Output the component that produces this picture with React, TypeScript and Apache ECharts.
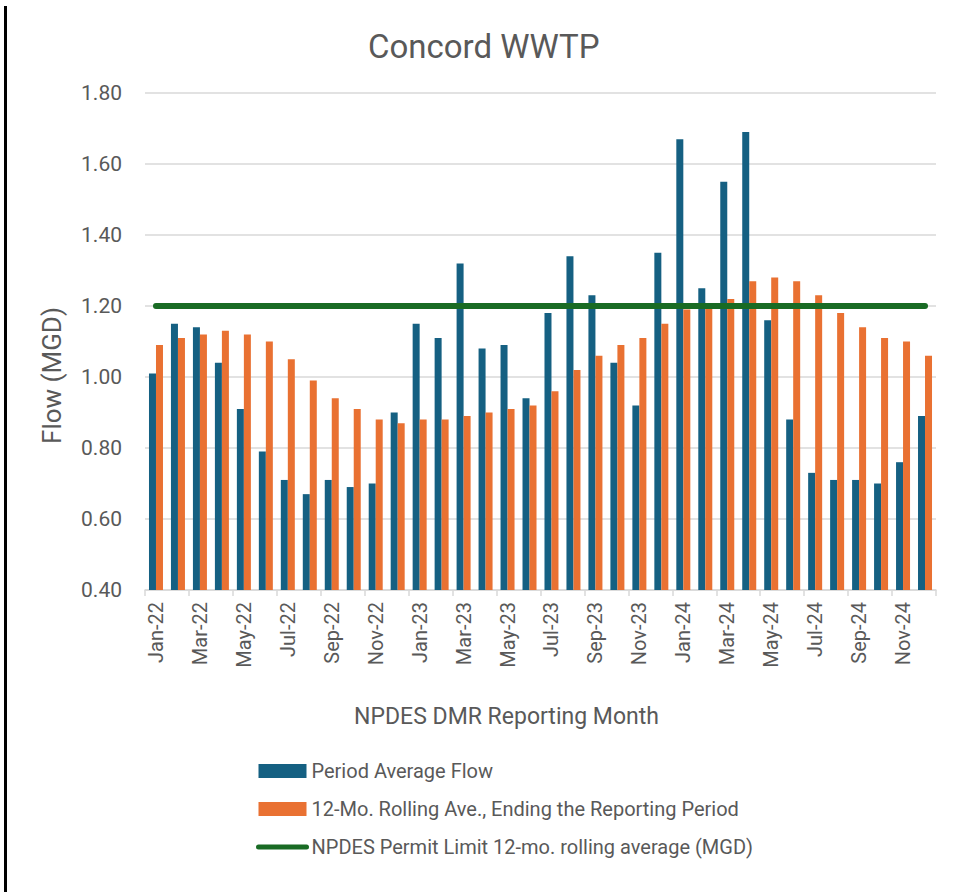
import React, { useEffect, useRef } from "react";
import * as echarts from "echarts";

const months = [
  "Jan-22","Feb-22","Mar-22","Apr-22","May-22","Jun-22","Jul-22","Aug-22","Sep-22","Oct-22","Nov-22","Dec-22",
  "Jan-23","Feb-23","Mar-23","Apr-23","May-23","Jun-23","Jul-23","Aug-23","Sep-23","Oct-23","Nov-23","Dec-23",
  "Jan-24","Feb-24","Mar-24","Apr-24","May-24","Jun-24","Jul-24","Aug-24","Sep-24","Oct-24","Nov-24","Dec-24",
];

const periodAverageFlow = [
  1.01, 1.15, 1.14, 1.04, 0.91, 0.79, 0.71, 0.67, 0.71, 0.69, 0.70, 0.90,
  1.15, 1.11, 1.32, 1.08, 1.09, 0.94, 1.18, 1.34, 1.23, 1.04, 0.92, 1.35,
  1.67, 1.25, 1.55, 1.69, 1.16, 0.88, 0.73, 0.71, 0.71, 0.70, 0.76, 0.89,
];

const rollingAverage = [
  1.09, 1.11, 1.12, 1.13, 1.12, 1.10, 1.05, 0.99, 0.94, 0.91, 0.88, 0.87,
  0.88, 0.88, 0.89, 0.90, 0.91, 0.92, 0.96, 1.02, 1.06, 1.09, 1.11, 1.15,
  1.19, 1.20, 1.22, 1.27, 1.28, 1.27, 1.23, 1.18, 1.14, 1.11, 1.10, 1.06,
];

const permitLimitValue = 1.2;
const permitLimit = months.map(() => permitLimitValue);

const seriesNames = [
  "Period Average Flow",
  "12-Mo. Rolling Ave., Ending the Reporting Period",
  "NPDES Permit Limit 12-mo. rolling average (MGD)",
];

const TEXT = "#595959";
const FONT = "Roboto";
const BLUE = "#156082";
const ORANGE = "#E97132";
const GREEN = "#196B24";

export default function App() {
  const ref = useRef<HTMLDivElement>(null);
  useEffect(() => {
    if (!ref.current) return;
    const chart = echarts.init(ref.current, undefined, { renderer: "svg" });
    chart.setOption({
      animation: false,
      backgroundColor: "#ffffff",
      textStyle: { fontFamily: FONT, color: TEXT },
      title: {
        text: "Concord WWTP",
        left: 368,
        top: 30,
        padding: 0,
        textStyle: { fontFamily: FONT, fontSize: 33, fontWeight: "normal", color: TEXT },
      },
      graphic: [
        {
          type: "rect",
          left: 4,
          top: 6,
          shape: { width: 3, height: 886 },
          style: { fill: "#000000" },
        },
      ],
      grid: { left: 145, right: 18, top: 93, bottom: 302, containLabel: false },
      legend: {
        orient: "vertical",
        left: 256,
        top: 761,
        padding: 0,
        itemWidth: 48,
        itemHeight: 14,
        itemGap: 18,
        textStyle: { fontFamily: FONT, fontSize: 20, color: TEXT },
        data: [
          { name: seriesNames[0], icon: "rect" },
          { name: seriesNames[1], icon: "rect" },
          {
            name: seriesNames[2],
            itemStyle: { color: "rgba(0,0,0,0)", borderWidth: 0, opacity: 0 },
            lineStyle: { color: GREEN, width: 5, cap: "round" },
          },
        ],
      },
      xAxis: {
        type: "category",
        data: months,
        name: "NPDES DMR Reporting Month",
        nameLocation: "middle",
        nameGap: 115,
        nameTextStyle: { fontFamily: FONT, fontSize: 23, color: TEXT, padding: [0, 68, 0, 0] },
        axisLine: { lineStyle: { color: "#d9d9d9", width: 1.5 } },
        axisTick: { show: true, interval: 1, length: 6, lineStyle: { color: "#d9d9d9", width: 1.5 } },
        axisLabel: {
          interval: 1,
          rotate: 90,
          margin: 12,
          fontFamily: FONT,
          fontSize: 20,
          color: TEXT,
        },
      },
      yAxis: {
        type: "value",
        min: 0.4,
        max: 1.8,
        interval: 0.2,
        name: "Flow (MGD)",
        nameLocation: "middle",
        nameRotate: 90,
        nameGap: 80,
        nameTextStyle: { fontFamily: FONT, fontSize: 26, color: TEXT, padding: [0, 68, 0, 0] },
        axisLine: { show: false },
        axisTick: { show: false },
        splitLine: { lineStyle: { color: "#d9d9d9", width: 1.5 } },
        axisLabel: {
          margin: 23,
          fontFamily: FONT,
          fontSize: 21,
          color: TEXT,
          formatter: (v: number) => v.toFixed(2),
        },
      },
      series: [
        {
          name: seriesNames[0],
          type: "bar",
          data: periodAverageFlow,
          barWidth: 7,
          barGap: "0%",
          itemStyle: { color: BLUE },
        },
        {
          name: seriesNames[1],
          type: "bar",
          data: rollingAverage,
          barWidth: 7,
          barGap: "0%",
          itemStyle: { color: ORANGE },
        },
        {
          name: seriesNames[2],
          type: "line",
          data: permitLimit,
          symbol: "none",
          lineStyle: { color: GREEN, width: 6, cap: "round" },
          itemStyle: { color: GREEN },
          z: 5,
        },
      ],
    });
    return () => chart.dispose();
  }, []);
  return (
    <div
      ref={ref}
      style={{ position: "fixed", left: 0, top: 0, width: 954, height: 892, background: "#fff" }}
    />
  );
}
